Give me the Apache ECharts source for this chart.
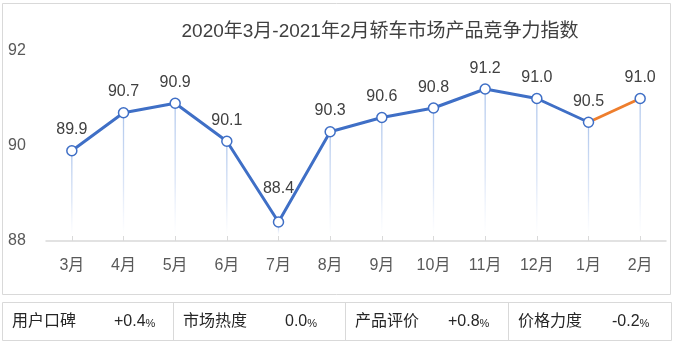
<!DOCTYPE html>
<html>
<head>
<meta charset="utf-8">
<title>轿车市场产品竞争力指数</title>
<script src="https://cdn.jsdelivr.net/npm/echarts@6/dist/echarts.min.js"></script>
<style>
  html, body { margin: 0; padding: 0; background: #ffffff; }
  #chart { width: 677px; height: 347px; }
</style>
</head>
<body>
<div id="chart"></div>
<script>
// Monthly sedan product competitiveness index, Mar 2020 – Feb 2021
const chartTitle = '2020年3月-2021年2月轿车市场产品竞争力指数';
const months = ['3月', '4月', '5月', '6月', '7月', '8月', '9月', '10月', '11月', '12月', '1月', '2月'];
const indexValues = [89.9, 90.7, 90.9, 90.1, 88.4, 90.3, 90.6, 90.8, 91.2, 91.0, 90.5, 91.0];
const yMin = 88;
const yMax = 92;
const yStep = 2;

// Month-on-month change of the four sub-indices
const factorNames = ['用户口碑', '市场热度', '产品评价', '价格力度'];
const factorChanges = ['+0.4', '0.0', '+0.8', '-0.2'];

const FONT = "'Liberation Sans', 'Noto Sans CJK SC', sans-serif";
const BLUE = '#3F6FC6';
const ORANGE = '#EE7E2D';
const BORDER = '#d9d9d9';

const chart = echarts.init(document.getElementById('chart'), null, { renderer: 'canvas' });

const lastIdx = indexValues.length - 1;
// the final month is drawn as a separate, highlighted segment
const mainData = indexValues.map((v, i) => {
  if (i === lastIdx) return null;
  if (i === 4) return { value: v, label: { distance: 20 } }; // keep the 7月 label clear of the line
  return v;
});
const tailData = indexValues.map((v, i) => {
  if (i === lastIdx - 1) return { value: v, symbol: 'none', label: { show: false } };
  if (i === lastIdx) return v;
  return null;
});

// summary table drawn under the chart
const tableTop = 302, tableH = 38, tableLeft = 2, tableRight = 672;
const cellEdges = [2, 173, 345, 508, 672];
const valueX = [114, 285, 448, 612];
const tableGraphics = [
  { type: 'rect', shape: { x: 2.5, y: 3.5, width: 668, height: 291 },
    style: { fill: 'none', stroke: BORDER, lineWidth: 1 }, silent: true },
  { type: 'rect', shape: { x: tableLeft + 0.5, y: tableTop + 0.5, width: tableRight - tableLeft - 1, height: tableH },
    style: { fill: 'none', stroke: BORDER, lineWidth: 1 }, silent: true }
];
for (let k = 1; k < cellEdges.length - 1; k++) {
  tableGraphics.push({ type: 'line',
    shape: { x1: cellEdges[k] + 0.5, y1: tableTop, x2: cellEdges[k] + 0.5, y2: tableTop + tableH },
    style: { stroke: BORDER, lineWidth: 1 }, silent: true });
}
factorNames.forEach((name, k) => {
  tableGraphics.push({ type: 'text', x: cellEdges[k] + 10, y: tableTop + tableH / 2 + 1,
    style: { text: name, fill: '#262626', font: '16px ' + FONT, verticalAlign: 'middle', align: 'left' } });
  tableGraphics.push({ type: 'text', x: valueX[k], y: tableTop + tableH / 2 + 1,
    style: { text: '{n|' + factorChanges[k] + '}{p|%}', verticalAlign: 'middle', align: 'left',
      rich: {
        n: { fontSize: 16, fontFamily: FONT, fill: '#262626', color: '#262626' },
        p: { fontSize: 11, fontFamily: FONT, fill: '#262626', color: '#262626', padding: [3, 0, 0, 0] }
      } } });
});

const option = {
  backgroundColor: '#ffffff',
  animation: false,
  title: {
    text: chartTitle,
    left: 375,
    top: 17,
    textAlign: 'center',
    textStyle: { fontFamily: FONT, fontSize: 19, fontWeight: 'normal', color: '#404040' }
  },
  grid: { left: 46, right: 11, top: 51, bottom: 106, containLabel: false },
  xAxis: {
    type: 'category',
    data: months,
    boundaryGap: true,
    axisLine: { lineStyle: { color: BORDER, width: 1.5 } },
    axisTick: { show: true, inside: true, alignWithLabel: true, length: 5, lineStyle: { color: BORDER } },
    axisLabel: { fontFamily: FONT, fontSize: 16, color: '#595959', margin: 17 }
  },
  yAxis: {
    type: 'value',
    min: yMin,
    max: yMax,
    interval: yStep,
    axisLine: { show: false },
    axisTick: { show: false },
    splitLine: { show: false },
    axisLabel: { fontFamily: FONT, fontSize: 16, color: '#595959', align: 'left', margin: 38 }
  },
  series: [
    {
      // faint drop lines from each point to the baseline
      type: 'custom',
      z: 1,
      silent: true,
      data: indexValues.map((v, i) => [i, v]),
      encode: { x: 0, y: 1 },
      renderItem: function (params, api) {
        const top = api.coord([api.value(0), api.value(1)]);
        const base = api.coord([api.value(0), yMin]);
        return {
          type: 'line',
          shape: { x1: top[0], y1: top[1], x2: base[0], y2: base[1] - 6 },
          style: {
            lineWidth: 1.3,
            stroke: new echarts.graphic.LinearGradient(0, top[1], 0, base[1] - 6, [
              { offset: 0, color: 'rgba(170,195,235,0.95)' },
              { offset: 0.6, color: 'rgba(190,208,240,0.55)' },
              { offset: 1, color: 'rgba(210,222,245,0)' }
            ], true)
          }
        };
      }
    },
    {
      type: 'line',
      z: 3,
      data: mainData,
      connectNulls: false,
      symbol: 'circle',
      symbolSize: 10,
      showAllSymbol: true,
      lineStyle: { color: BLUE, width: 3 },
      itemStyle: { color: '#ffffff', borderColor: BLUE, borderWidth: 1.5 },
      label: { show: true, position: 'top', distance: 7, fontFamily: FONT, fontSize: 16, color: '#404040',
        formatter: p => p.value.toFixed(1) },
      emphasis: { disabled: true }
    },
    {
      type: 'line',
      z: 2,
      data: tailData,
      symbol: 'circle',
      symbolSize: 10,
      showAllSymbol: true,
      lineStyle: { color: ORANGE, width: 3 },
      itemStyle: { color: '#ffffff', borderColor: BLUE, borderWidth: 1.5 },
      label: { show: true, position: 'top', distance: 7, fontFamily: FONT, fontSize: 16, color: '#404040',
        formatter: p => p.value.toFixed(1) },
      emphasis: { disabled: true }
    }
  ],
  graphic: tableGraphics
};

chart.setOption(option);
</script>
</body>
</html>
